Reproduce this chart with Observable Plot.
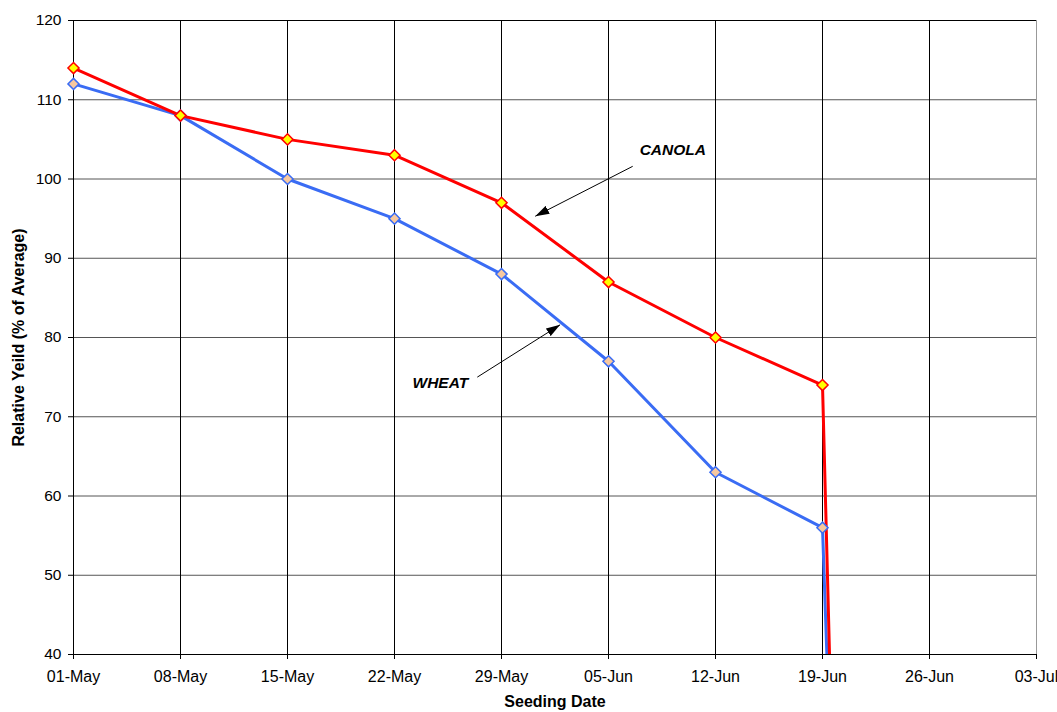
<!DOCTYPE html>
<html>
<head>
<meta charset="utf-8">
<script src="https://cdn.jsdelivr.net/npm/d3@7"></script>
<script src="https://cdn.jsdelivr.net/npm/@observablehq/plot@0.6"></script>
<style>
  html, body { margin: 0; padding: 0; background: #fff; }
  #chart svg { display: block; }
</style>
</head>
<body>
<div id="chart"></div>
<script>
// ---- data ----
const dates = ["2009-05-01","2009-05-08","2009-05-15","2009-05-22","2009-05-29","2009-06-05","2009-06-12","2009-06-19","2009-06-20"];
const canola = [114, 108, 105, 103, 97, 87, 80, 74, 0];
const wheat  = [112, 108, 100, 95, 88, 77, 63, 56, 0];
const markerCount = 8; // markers drawn at weekly seeding dates only
const tickDates = ["2009-05-01","2009-05-08","2009-05-15","2009-05-22","2009-05-29","2009-06-05","2009-06-12","2009-06-19","2009-06-26","2009-07-03"];
const yTicks = [40, 50, 60, 70, 80, 90, 100, 110, 120];

// annotations (data coordinates)
const labelNames = ["CANOLA", "WHEAT"];
const labelX = ["2009-06-09T05:00", "2009-05-25T00:00"];
const labelY = [103.6, 74.2];
const arrowX1 = ["2009-06-06T14:00", "2009-05-27T10:00"];
const arrowY1 = [101.6, 75.0];
const arrowX2 = ["2009-05-31T05:00", "2009-06-01T20:00"];
const arrowY2 = [95.3, 81.6];

const parse = (s) => new Date(s + (s.length === 10 ? "T00:00Z" : "Z"));
const canolaData = dates.map((d, i) => ({date: parse(d), value: canola[i]}));
const wheatData = dates.map((d, i) => ({date: parse(d), value: wheat[i]}));
const labels = labelNames.map((n, i) => ({name: n, x: parse(labelX[i]), y: labelY[i]}));
const arrows = labelNames.map((n, i) => ({x1: parse(arrowX1[i]), y1: arrowY1[i], x2: parse(arrowX2[i]), y2: arrowY2[i]}));

const fmt = d3.utcFormat("%d-%b");

const chart = Plot.plot({
  width: 1057,
  height: 712,
  marginLeft: 73,
  marginRight: 21,
  marginTop: 20,
  marginBottom: 58,
  style: {fontFamily: "'Liberation Sans', Arial, sans-serif", fontSize: "15px", color: "#000", background: "#fff"},
  x: {type: "utc", domain: [parse(tickDates[0]), parse(tickDates[tickDates.length - 1])]},
  y: {domain: [40, 120]},
  marks: [
    Plot.gridY(yTicks, {stroke: "#555", strokeOpacity: 1}),
    Plot.gridX(tickDates.map(parse), {stroke: "#000", strokeOpacity: 1}),
    Plot.ruleX([parse(tickDates[tickDates.length - 1])], {stroke: "#999"}),
    Plot.ruleY([120], {stroke: "#000"}),
    Plot.ruleX([parse(tickDates[0])], {stroke: "#000"}),
    Plot.axisX(tickDates.map(parse), {tickFormat: fmt, tickSize: 5, tickPadding: 11, label: null, fontSize: 16}),
    Plot.axisY(yTicks, {tickSize: 5, tickPadding: 7, label: null, fontSize: 15.5}),
    Plot.ruleY([40], {stroke: "#000"}),
    Plot.line(wheatData, {x: "date", y: "value", stroke: "#3a6cf4", strokeWidth: 3, clip: true}),
    Plot.line(canolaData, {x: "date", y: "value", stroke: "#ff0000", strokeWidth: 3, clip: true}),
    Plot.dot(wheatData.slice(0, markerCount), {x: "date", y: "value", symbol: "diamond2", r: 5, fill: "#f7c89f", stroke: "#3a6cf4", strokeWidth: 1.5}),
    Plot.dot(canolaData.slice(0, markerCount), {x: "date", y: "value", symbol: "diamond2", r: 5, fill: "#ffff00", stroke: "#ff0000", strokeWidth: 1.5}),
    Plot.link(arrows, {x1: "x1", y1: "y1", x2: "x2", y2: "y2", stroke: "#000", strokeWidth: 1, markerEnd: "arrow"}),
    Plot.text(labels, {x: "x", y: "y", text: "name", fontWeight: "bold", fontStyle: "italic", fontSize: 15.5, fill: "#000"}),
    Plot.text(["Relative Yeild (% of Average)"], {frameAnchor: "left", textAnchor: "middle", rotate: -90, dx: -54.5, fontWeight: "bold", fontSize: 16, fill: "#000"}),
    Plot.text(["Seeding Date"], {frameAnchor: "bottom", dy: 52, fontWeight: "bold", fontSize: 16, fill: "#000"})
  ]
});

// make arrow heads filled triangles
d3.select(chart).selectAll("marker").each(function() {
  const m = d3.select(this);
  m.attr("viewBox", "-14 -5 14 10")
   .attr("markerWidth", 14)
   .attr("markerHeight", 10)
   .attr("fill", "#000")
   .attr("stroke", "none");
  m.selectAll("path").attr("d", "M-14,-4.5L0,0L-14,4.5Z");
});

document.getElementById("chart").appendChild(chart);
</script>
</body>
</html>
